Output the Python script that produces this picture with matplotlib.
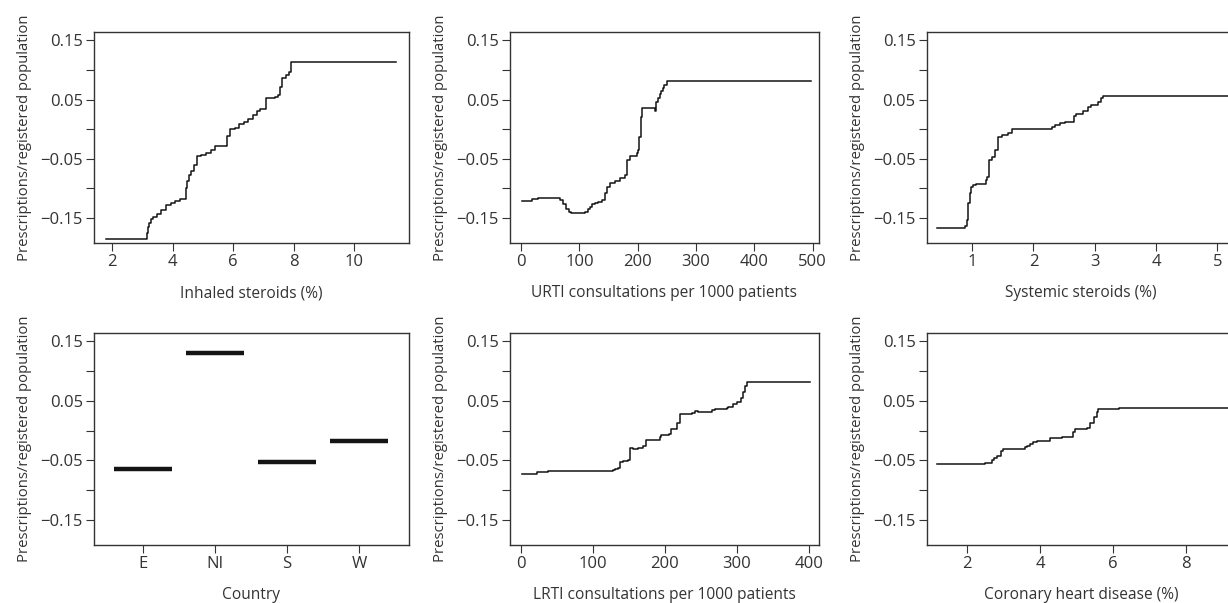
import matplotlib
matplotlib.use("Agg")
import matplotlib.pyplot as plt
from matplotlib.ticker import FixedLocator

# ---- data ----
YLABEL = "Prescriptions/registered population"

inhaled_x = [1.79, 3.14, 3.18, 3.22, 3.27, 3.35, 3.47, 3.62, 3.78, 3.95, 4.08, 4.25,
             4.43, 4.48, 4.54, 4.62, 4.70, 4.80, 4.95, 5.10, 5.25, 5.40, 5.75, 5.80,
             5.88, 6.05, 6.20, 6.35, 6.50, 6.65, 6.80, 6.90, 7.10, 7.40, 7.50, 7.56,
             7.62, 7.75, 7.85, 7.90, 11.39]
inhaled_y = [-0.185, -0.175, -0.165, -0.158, -0.152, -0.148, -0.143, -0.137, -0.128,
             -0.125, -0.121, -0.118, -0.100, -0.088, -0.078, -0.070, -0.060, -0.046,
             -0.043, -0.040, -0.035, -0.029, -0.028, -0.012, 0.000, 0.002, 0.008,
             0.012, 0.018, 0.024, 0.030, 0.034, 0.053, 0.054, 0.058, 0.072, 0.086,
             0.092, 0.096, 0.113, 0.113]

urti_x = [1, 18, 29, 67, 72, 77, 82, 86, 110, 114, 118, 122, 127, 132, 138, 144, 148,
          152, 161, 170, 179, 182, 187, 199, 201, 203, 205, 207, 230, 232, 235, 238,
          240, 243, 246, 250, 497]
urti_y = [-0.121, -0.118, -0.116, -0.120, -0.127, -0.134, -0.139, -0.142, -0.139,
          -0.135, -0.131, -0.127, -0.124, -0.122, -0.120, -0.108, -0.098, -0.090,
          -0.088, -0.083, -0.078, -0.052, -0.046, -0.040, -0.035, -0.013, 0.021,
          0.036, 0.031, 0.046, 0.053, 0.060, 0.064, 0.070, 0.075, 0.081, 0.081]

systemic_x = [0.43, 0.88, 0.91, 0.93, 0.96, 0.98, 1.01, 1.06, 1.22, 1.25, 1.28, 1.32,
              1.37, 1.42, 1.48, 1.58, 1.65, 2.30, 2.35, 2.43, 2.51, 2.66, 2.70, 2.81,
              2.89, 2.94, 3.05, 3.11, 3.14, 5.25]
systemic_y = [-0.167, -0.163, -0.153, -0.125, -0.108, -0.097, -0.094, -0.093, -0.086,
              -0.080, -0.052, -0.047, -0.035, -0.013, -0.010, -0.006, 0.000, 0.003,
              0.007, 0.011, 0.012, 0.022, 0.025, 0.030, 0.038, 0.040, 0.046, 0.052,
              0.056, 0.056]

countries = ["E", "NI", "S", "W"]
country_y = [-0.065, 0.130, -0.052, -0.018]

lrti_x = [1, 22, 37, 128, 130, 135, 138, 142, 148, 151, 156, 163, 170, 174, 193, 195,
          205, 208, 215, 217, 221, 237, 242, 246, 262, 265, 269, 286, 288, 295, 300,
          305, 308, 311, 314, 401]
lrti_y = [-0.072, -0.070, -0.068, -0.066, -0.065, -0.062, -0.053, -0.051, -0.050,
          -0.029, -0.031, -0.029, -0.025, -0.015, -0.010, -0.008, -0.006, 0.002,
          0.003, 0.012, 0.028, 0.029, 0.033, 0.031, 0.031, 0.035, 0.037, 0.038,
          0.040, 0.044, 0.048, 0.055, 0.065, 0.075, 0.081, 0.081]

chd_x = [1.18, 2.49, 2.69, 2.74, 2.83, 2.92, 2.98, 3.07, 3.59, 3.64, 3.73, 3.82, 3.91,
         4.28, 4.60, 4.92, 4.97, 5.03, 5.29, 5.38, 5.47, 5.56, 5.60, 5.65, 6.16, 9.25]
chd_y = [-0.056, -0.0545, -0.049, -0.046, -0.042, -0.035, -0.031, -0.030, -0.028,
         -0.025, -0.022, -0.019, -0.017, -0.012, -0.010, -0.002, 0.002, 0.002, 0.005,
         0.012, 0.023, 0.032, 0.036, 0.036, 0.0375, 0.0375]

YTICKS = [-0.15, -0.1, -0.05, 0.0, 0.05, 0.1, 0.15]
YLABELS = ["\u22120.15", "", "\u22120.05", "", "0.05", "", "0.15"]

INK = "#333333"
LINE = "#141414"

plt.rcParams.update({
    "font.family": ["Open Sans", "DejaVu Sans"],
    "font.size": 11,
    "text.color": INK,
    "axes.labelcolor": INK,
    "axes.labelsize": 11.2,
    "axes.edgecolor": INK,
    "axes.linewidth": 1.0,
    "xtick.color": INK,
    "ytick.color": INK,
    "xtick.labelsize": 12,
    "ytick.labelsize": 12,
    "xtick.major.size": 5.5,
    "ytick.major.size": 5.5,
    "xtick.major.pad": 2.5,
    "ytick.major.pad": 2.5,
})

fig = plt.figure(figsize=(12.28, 6.03), dpi=100)

cols = [(0.0765, 0.2565), (0.4153, 0.2516), (0.7546, 0.2516)]
rows = [(0.597, 0.350), (0.0962, 0.3516)]


def make_ax(r, c):
    ax = fig.add_axes([cols[c][0], rows[r][0], cols[c][1], rows[r][1]])
    ax.set_ylim(-0.192, 0.164)
    ax.yaxis.set_major_locator(FixedLocator(YTICKS))
    ax.set_yticklabels(YLABELS)
    ax.set_ylabel(YLABEL, labelpad=6, fontsize=10.7)
    return ax


def step_panel(r, c, x, y, xlim, xticks, xlabel):
    ax = make_ax(r, c)
    ax.step(x, y, where="post", color=LINE, linewidth=1.1)
    ax.set_xlim(*xlim)
    ax.set_xticks(xticks)
    ax.set_xlabel(xlabel, labelpad=11)
    return ax


step_panel(0, 0, inhaled_x, inhaled_y, (1.39, 11.82), [2, 4, 6, 8, 10],
           "Inhaled steroids (%)")
step_panel(0, 1, urti_x, urti_y, (-19, 511), [0, 100, 200, 300, 400, 500],
           "URTI consultations per 1000 patients")
step_panel(0, 2, systemic_x, systemic_y, (0.257, 5.30), [1, 2, 3, 4, 5],
           "Systemic steroids (%)")

ax = make_ax(1, 0)
pos = list(range(1, len(countries) + 1))
ax.hlines(country_y, [p - 0.4 for p in pos], [p + 0.4 for p in pos],
          color=LINE, linewidth=3.2)
ax.set_xlim(0.32, 4.69)
ax.set_xticks(pos)
ax.set_xticklabels(countries)
ax.set_xlabel("Country", labelpad=11)

step_panel(1, 1, lrti_x, lrti_y, (-15.3, 413.9), [0, 100, 200, 300, 400],
           "LRTI consultations per 1000 patients")
step_panel(1, 2, chd_x, chd_y, (0.889, 9.37), [2, 4, 6, 8],
           "Coronary heart disease (%)")

fig.savefig("out.png", dpi=100)
